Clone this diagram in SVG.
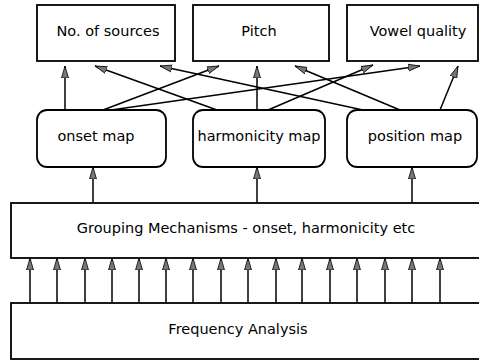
<svg xmlns="http://www.w3.org/2000/svg" width="479" height="360" viewBox="0 0 479 360">
<defs>
<marker id="ah" markerUnits="userSpaceOnUse" markerWidth="13" markerHeight="9" refX="12" refY="4.5" orient="auto">
<path d="M0,1 L12,4.5 L0,8 Z" fill="#777" stroke="#000" stroke-width="0.8"/>
</marker>
</defs>
<style>
.box{fill:#fff;stroke:#000;stroke-width:1.8}
.t{font-family:"DejaVu Sans",sans-serif;font-size:14.5px;fill:#000;text-anchor:middle}
.c line{stroke:#000;stroke-width:1.5;marker-end:url(#ah)}
</style>
<rect width="479" height="360" fill="#fff"/>
<g id="sources"><rect class="box" x="37" y="5" width="138" height="56"/><text class="t" x="108" y="36">No. of sources</text></g>
<g id="pitch"><rect class="box" x="193" y="5" width="136" height="56"/><text class="t" x="259" y="36">Pitch</text></g>
<g id="vowel"><rect class="box" x="347" y="5" width="131" height="56"/><text class="t" x="418" y="36">Vowel quality</text></g>
<g id="onset"><rect class="box" x="37" y="110" width="129" height="57" rx="10"/><text class="t" x="96" y="141">onset map</text></g>
<g id="harm"><rect class="box" x="193" y="110" width="132" height="57" rx="10"/><text class="t" x="259" y="141">harmonicity map</text></g>
<g id="pos"><rect class="box" x="347" y="110" width="130" height="57" rx="10"/><text class="t" x="415" y="141">position map</text></g>
<g id="grouping"><rect class="box" x="11" y="203" width="480" height="55"/><text class="t" x="246" y="233">Grouping Mechanisms - onset, harmonicity etc</text></g>
<g id="freq"><rect class="box" x="11" y="303" width="480" height="56"/><text class="t" x="238" y="334">Frequency Analysis</text></g>
<g class="c" id="connectors">
<line x1="65" y1="110" x2="65" y2="66"/>
<line x1="103" y1="110" x2="219" y2="66"/>
<line x1="111" y1="110" x2="420" y2="66"/>
<line x1="217" y1="110" x2="95" y2="66"/>
<line x1="257" y1="110" x2="257" y2="66"/>
<line x1="268" y1="110" x2="373" y2="65"/>
<line x1="363" y1="110" x2="160" y2="66"/>
<line x1="400" y1="110" x2="295" y2="66"/>
<line x1="440" y1="110" x2="458" y2="66"/>
<line x1="93" y1="203" x2="93" y2="167"/>
<line x1="257" y1="203" x2="257" y2="167"/>
<line x1="412" y1="203" x2="412" y2="167"/>
<line x1="30" y1="303" x2="30" y2="258"/>
<line x1="57" y1="303" x2="57" y2="258"/>
<line x1="85" y1="303" x2="85" y2="258"/>
<line x1="112" y1="303" x2="112" y2="258"/>
<line x1="139" y1="303" x2="139" y2="258"/>
<line x1="166" y1="303" x2="166" y2="258"/>
<line x1="193" y1="303" x2="193" y2="258"/>
<line x1="221" y1="303" x2="221" y2="258"/>
<line x1="248" y1="303" x2="248" y2="258"/>
<line x1="276" y1="303" x2="276" y2="258"/>
<line x1="302" y1="303" x2="302" y2="258"/>
<line x1="330" y1="303" x2="330" y2="258"/>
<line x1="357" y1="303" x2="357" y2="258"/>
<line x1="385" y1="303" x2="385" y2="258"/>
<line x1="412" y1="303" x2="412" y2="258"/>
<line x1="440" y1="303" x2="440" y2="258"/>
</g>
</svg>
